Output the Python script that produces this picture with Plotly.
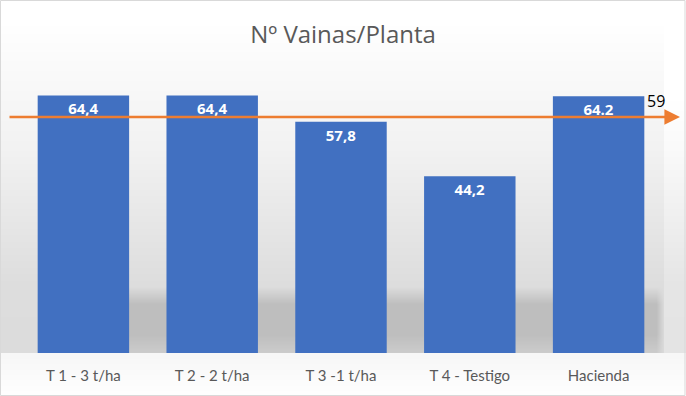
import base64, struct, zlib
import numpy as np
import plotly.graph_objects as go

# ---- data ----
categories = ["T 1 - 3 t/ha", "T 2 - 2 t/ha", "T 3 -1 t/ha", "T 4 - Testigo", "Hacienda"]
values = [64.4, 64.4, 57.8, 44.2, 64.2]
value_labels = ["64,4", "64,4", "57,8", "44,2", "64.2"]
reference_value = 59
reference_label = "59"
title_text = "Nº Vainas/Planta"

# ---- geometry ----
W, H = 686, 396
ML, MR, MT, MB = 19, 23, 73, 43
PW, PH = W - ML - MR, H - MT - MB


# ---- background (gradient + shadow) as an inline PNG ----
def make_bg():
    ys = np.arange(H, dtype=float)
    upper = np.interp(ys, [0, 25, 60, 150, 280, 353], [255, 255, 251, 242, 222, 220])
    lower = np.interp(ys, [353, 396], [247, 255])
    col = np.where(ys < 353, upper, lower)
    img = np.tile(col[:, None], (1, W))
    img[:353, 664:] = np.minimum(255, img[:353, 664:] + 8)
    sh = np.interp(ys, [286, 304, 334, 352, 353], [0, 1, 1, 0.55, 0])
    sx = np.interp(np.arange(W, dtype=float), [36, 44, 656, 664], [0, 1, 1, 0])
    mask = sh[:, None] * sx[None, :]
    img = img * (1 - mask) + 190 * mask
    img = np.clip(img, 0, 255).astype(np.uint8)
    rgb = np.repeat(img[:, :, None], 3, axis=2)
    raw = b"".join(b"\x00" + rgb[r].tobytes() for r in range(H))

    def chunk(t, d):
        c = struct.pack(">I", len(d)) + t + d
        return c + struct.pack(">I", zlib.crc32(t + d) & 0xFFFFFFFF)

    png = b"\x89PNG\r\n\x1a\n" + chunk(b"IHDR", struct.pack(">IIBBBBB", W, H, 8, 2, 0, 0, 0))
    png += chunk(b"IDAT", zlib.compress(raw, 9)) + chunk(b"IEND", b"")
    return "data:image/png;base64," + base64.b64encode(png).decode()


fig = go.Figure()
fig.add_trace(go.Bar(
    x=categories, y=values,
    text=value_labels, textposition="inside", insidetextanchor="end",
    textfont=dict(family="Open Sans", size=15, color="white", weight="bold"),
    constraintext="none",
    marker=dict(color="#4170c1", line=dict(width=0)),
    hoverinfo="x+y",
))

fig.update_layout(
    width=W, height=H,
    margin=dict(l=ML, r=MR, t=MT, b=MB, pad=0),
    paper_bgcolor="white", plot_bgcolor="rgba(0,0,0,0)",
    bargap=0.29,
    showlegend=False,
    title=dict(text=title_text, x=0.5, xanchor="center", y=1 - 35 / H, yanchor="middle",
               font=dict(family="Open Sans", size=24, color="#595959")),
    xaxis=dict(showgrid=False, showline=False, zeroline=False, ticks="",
               tickfont=dict(family="Lato", size=15, color="#595959"),
               ticklabelstandoff=12, fixedrange=True),
    yaxis=dict(range=[0, 70], visible=False, fixedrange=True),
    images=[dict(source=make_bg(), xref="paper", yref="paper",
                 x=-ML / PW, y=1 + MT / PH, sizex=W / PW, sizey=H / PH,
                 xanchor="left", yanchor="top", sizing="stretch", layer="below")],
)

# reference line with arrow
tip_px = 680
tip_x = 1 + (tip_px - ML - PW) / PW
fig.add_annotation(x=tip_x, xref="paper", y=reference_value, yref="y",
                   ax=-(tip_px - 8), ay=0, axref="pixel", ayref="pixel",
                   text="", showarrow=True, arrowhead=2, arrowsize=1.2,
                   arrowwidth=2.6, arrowcolor="#ed7d31", standoff=0)
fig.add_annotation(x=1 + (645 - ML - PW) / PW, xref="paper", y=reference_value, yref="y",
                   text=reference_label, showarrow=False, xanchor="left", yanchor="middle",
                   yshift=16, font=dict(family="Open Sans", size=16, color="black"))

# outer frame
fig.add_shape(type="rect", xref="paper", yref="paper",
              x0=-ML / PW + 0.5 / PW, x1=1 + (MR - 1) / PW,
              y0=-MB / PH + 0.5 / PH, y1=1 + (MT - 0.5) / PH,
              line=dict(color="#d9d9d9", width=1), fillcolor="rgba(0,0,0,0)", layer="above")

fig.write_html("out.html", config={"displayModeBar": False},
               post_script="document.body.style.margin='0';")
